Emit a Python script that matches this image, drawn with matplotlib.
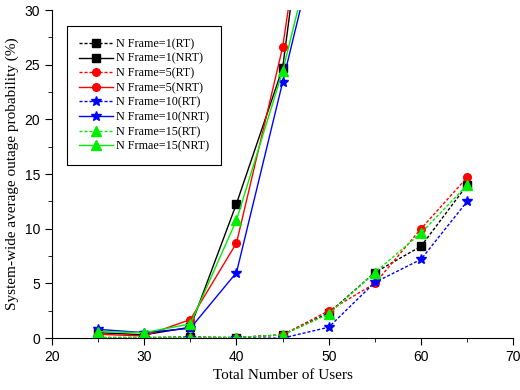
import numpy as np
import matplotlib.pyplot as plt
from matplotlib.ticker import MultipleLocator

users = [25, 30, 35, 40, 45, 50, 55, 60, 65]
users_nrt = [25, 30, 35, 40, 45, 50]

# RT (dashed) series
rt_1 = [0.05, 0.05, 0.1, 0.05, 0.3, 2.3, 6.0, 8.4, 14.0]
rt_5 = [0.05, 0.05, 0.05, 0.05, 0.3, 2.5, 5.0, 10.0, 14.7]
rt_10 = [0.0, 0.0, 0.0, 0.0, 0.0, 1.0, 5.1, 7.2, 12.5]
rt_15 = [0.05, 0.05, 0.05, 0.05, 0.3, 2.2, 6.0, 9.6, 14.0]

# NRT (solid) series, they leave the plot above 30
nrt_1 = [0.5, 0.3, 1.0, 12.3, 24.7, 57.0]
nrt_5 = [0.35, 0.2, 1.7, 8.7, 26.6, 55.0]
nrt_10 = [0.8, 0.5, 0.9, 6.0, 23.4, 40.8]
nrt_15 = [0.6, 0.5, 1.3, 10.8, 24.4, 41.5]

fig = plt.figure(figsize=(5.2, 3.9), dpi=100)
ax = fig.add_axes([0.1, 0.133, 0.887, 0.841])

ms = 5.5
dash = (2.2, 1.4)
ax.plot(users, rt_1, '--', dashes=dash, color='black', marker='s', ms=ms, lw=1, label='N Frame=1(RT)')
ax.plot(users_nrt, nrt_1, '-', color='black', marker='s', ms=ms, lw=1, label='N Frame=1(NRT)')
ax.plot(users, rt_5, '--', dashes=dash, color='red', marker='o', ms=ms, lw=1, label='N Frame=5(RT)')
ax.plot(users_nrt, nrt_5, '-', color='red', marker='o', ms=ms, lw=1, label='N Frame=5(NRT)')
ax.plot(users, rt_10, '--', dashes=dash, color='blue', marker='*', ms=ms + 2, lw=1, label='N Frame=10(RT)')
ax.plot(users_nrt, nrt_10, '-', color='blue', marker='*', ms=ms + 2, lw=1, label='N Frame=10(NRT)')
ax.plot(users, rt_15, '--', dashes=dash, color='#00ee00', marker='^', ms=ms + 1, lw=1, label='N Frame=15(RT)')
ax.plot(users_nrt, nrt_15, '-', color='#00ee00', marker='^', ms=ms + 1, lw=1, label='N Frmae=15(NRT)')

ax.set_xlim(20, 70)
ax.set_ylim(0, 30)
ax.xaxis.set_major_locator(MultipleLocator(10))
ax.xaxis.set_minor_locator(MultipleLocator(5))
ax.yaxis.set_major_locator(MultipleLocator(5))
ax.yaxis.set_minor_locator(MultipleLocator(2.5))
ax.spines['top'].set_visible(False)
ax.spines['right'].set_visible(False)
ax.tick_params(which='major', length=5, direction='out', labelsize=10)
ax.tick_params(which='minor', length=3, direction='out')
for lab in ax.get_xticklabels() + ax.get_yticklabels():
    lab.set_family('Liberation Sans')

ax.set_xlabel('Total Number of Users', family='Liberation Serif', fontsize=11)
ax.set_ylabel('System-wide average outage probability (%)', family='Liberation Serif', fontsize=11)

leg = ax.legend(loc='upper left', bbox_to_anchor=(67 / 520, 1 - 26 / 390), bbox_transform=fig.transFigure,
                prop={'family': 'Liberation Serif', 'size': 8.7},
                fancybox=False, edgecolor='black', framealpha=1, handlelength=2.8,
                labelspacing=0.22, borderpad=1.0, handletextpad=0.25, borderaxespad=0)
leg.get_frame().set_linewidth(0.8)

fig.savefig('out.png', dpi=100)
